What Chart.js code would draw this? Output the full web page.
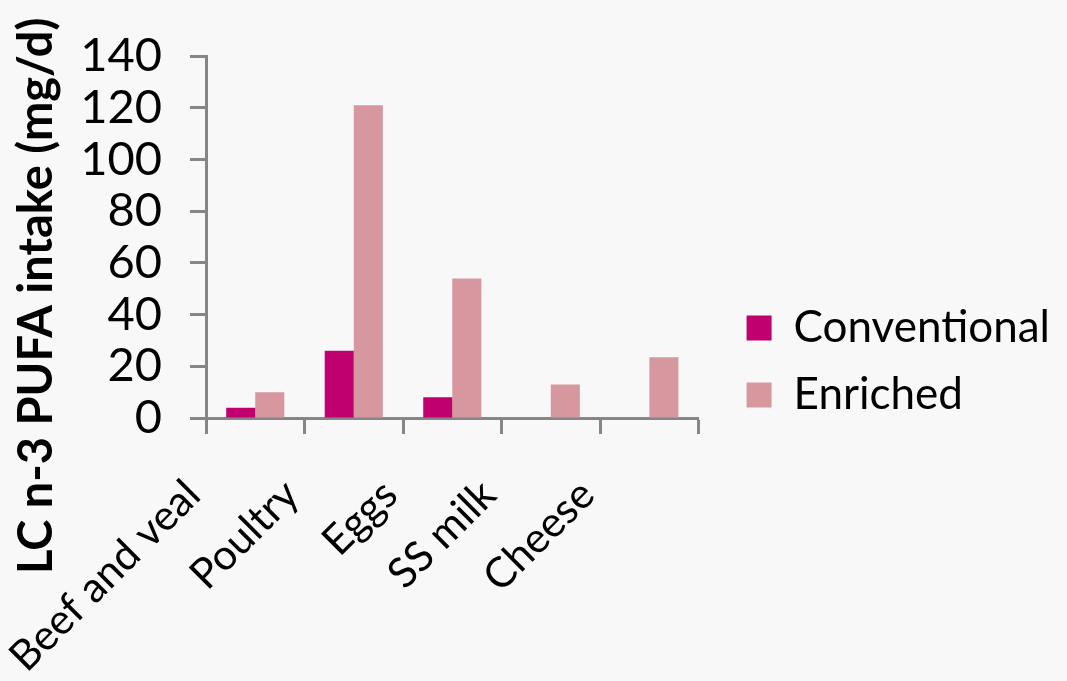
<!DOCTYPE html>
<html>
<head>
<meta charset="utf-8">
<script src="https://cdn.jsdelivr.net/npm/chart.js@4/dist/chart.umd.min.js"></script>
<style>
  html, body { margin: 0; padding: 0; background: #f8f8f8; }
  #wrap { width: 1067px; height: 681px; }
</style>
</head>
<body>
<div id="wrap"><canvas id="c" width="1067" height="681"></canvas></div>
<script>
// Food groups and LC n-3 PUFA intake (mg/d)
const categories = ['Beef and veal', 'Poultry', 'Eggs', 'SS milk', 'Cheese'];
const conventional = [4, 26, 8, null, null];
const enriched = [10, 121, 54, 13, 23.5];
const yTicks = { min: 0, max: 140, step: 20 };

const AXIS = '#868686';
const FONT = 'Lato';

// Nudges the legend block away from the plot area.
const legendShift = {
  id: 'legendShift',
  afterLayout(chart, _args, opts) {
    const lg = chart.legend;
    if (!lg) return;
    lg.left += opts.dx; lg.right += opts.dx;
    lg.top += opts.dy; lg.bottom += opts.dy;
  }
};

const chart = new Chart(document.getElementById('c'), {
  type: 'bar',
  data: {
    labels: categories,
    datasets: [
      { label: 'Conventional', data: conventional, backgroundColor: '#c0006f', borderWidth: 0 },
      { label: 'Enriched', data: enriched, backgroundColor: '#d6979f', borderWidth: 0 }
    ]
  },
  plugins: [legendShift],
  options: {
    responsive: false,
    devicePixelRatio: 1,
    animation: false,
    layout: { padding: { top: 42, right: 32, left: 0, bottom: 0 } },
    datasets: { bar: { categoryPercentage: 0.59, barPercentage: 1 } },
    plugins: {
      tooltip: { enabled: false },
      legendShift: { dx: 25, dy: 0 },
      legend: {
        position: 'right',
        align: 'center',
        maxWidth: 400,
        labels: {
          color: '#000',
          font: { family: FONT, size: 44 },
          boxWidth: 25,
          boxHeight: 25,
          padding: 23
        }
      }
    },
    scales: {
      x: {
        afterFit(scale) { scale.height = 263; },
        border: { color: AXIS, width: 3 },
        grid: {
          offset: true,
          drawOnChartArea: false,
          drawTicks: true,
          tickLength: 16,
          tickWidth: 3,
          tickColor: AXIS
        },
        ticks: {
          autoSkip: false,
          color: '#000',
          font: { family: FONT, size: 42 },
          minRotation: 45,
          maxRotation: 45,
          padding: 36,
          labelOffset: -62
        }
      },
      y: {
        min: yTicks.min,
        max: yTicks.max,
        afterFit(scale) { scale.width = 206; },
        border: { color: AXIS, width: 3 },
        grid: {
          drawOnChartArea: false,
          drawTicks: true,
          tickLength: 16,
          tickWidth: 3,
          tickColor: AXIS
        },
        ticks: {
          autoSkip: false,
          stepSize: yTicks.step,
          color: '#000',
          font: { family: FONT, size: 47 },
          padding: 28
        },
        title: {
          display: true,
          text: 'LC n-3 PUFA intake (mg/d)\u2002\u2002\u2002\u2002\u2002',
          color: '#000',
          font: { family: FONT, size: 47, weight: 'bold' },
          padding: { top: 9, bottom: 0 }
        }
      }
    }
  }
});
</script>
</body>
</html>
